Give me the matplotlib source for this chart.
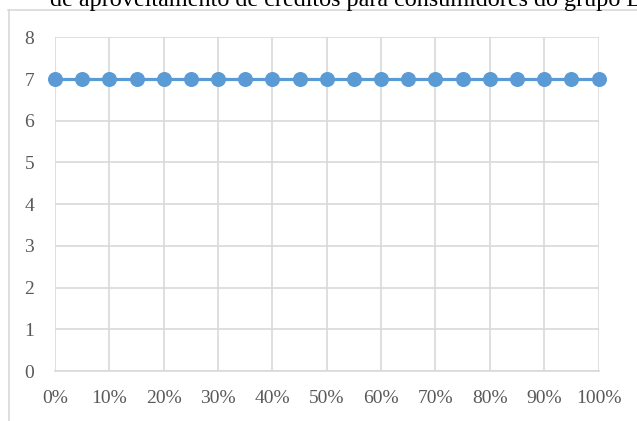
import matplotlib
matplotlib.use("Agg")
import matplotlib.pyplot as plt
from matplotlib.lines import Line2D

# Share of credit usage (x) and resulting value (y)
shares = [0.00, 0.05, 0.10, 0.15, 0.20, 0.25, 0.30, 0.35, 0.40, 0.45, 0.50,
          0.55, 0.60, 0.65, 0.70, 0.75, 0.80, 0.85, 0.90, 0.95, 1.00]
values = [7, 7, 7, 7, 7, 7, 7, 7, 7, 7, 7,
          7, 7, 7, 7, 7, 7, 7, 7, 7, 7]
x_ticks = [0.0, 0.1, 0.2, 0.3, 0.4, 0.5, 0.6, 0.7, 0.8, 0.9, 1.0]
x_tick_labels = ["0%", "10%", "20%", "30%", "40%", "50%",
                 "60%", "70%", "80%", "90%", "100%"]
y_ticks = [0, 1, 2, 3, 4, 5, 6, 7, 8]
title = "de aproveitamento de créditos para consumidores do grupo B"

W, H = 637, 421
DPI = 100
plt.rcParams["font.family"] = ["Liberation Serif", "DejaVu Serif"]

fig = plt.figure(figsize=(W / DPI, H / DPI), dpi=DPI)
fig.patch.set_facecolor("white")

grid_c = "#D9D9D9"
text_c = "#595959"

# outer chart frame
fig.add_artist(Line2D([8.5 / W, 8.5 / W], [0, 1 - 10 / H], transform=fig.transFigure,
                      color=grid_c, lw=1.2))
fig.add_artist(Line2D([8 / W, 1], [1 - 10 / H, 1 - 10 / H], transform=fig.transFigure,
                      color=grid_c, lw=1.2))

# title
fig.text(50 / W, 1 - 6 / H, title, ha="left", va="baseline",
         fontsize=17.4, color="black")

left, right, top, bottom = 55, 598.5, 37.3, 371
ax = fig.add_axes([left / W, 1 - bottom / H, (right - left) / W, (bottom - top) / H])

ax.plot(shares, values, color="#5B9BD5", lw=2.3, marker="o", markersize=10.8,
        markeredgewidth=0, zorder=3, clip_on=False)

ax.set_xlim(0, 1)
ax.set_ylim(0, 8)
ax.set_xticks(x_ticks)
ax.set_xticklabels(x_tick_labels)
ax.set_yticks(y_ticks)
ax.grid(True, color=grid_c, lw=1.2)
ax.set_axisbelow(True)
for s in ax.spines.values():
    s.set_visible(False)
ax.spines["bottom"].set_visible(True)
ax.spines["bottom"].set_color(grid_c)
ax.spines["bottom"].set_linewidth(1.2)
ax.tick_params(length=0, colors=text_c, labelsize=14)
ax.tick_params(axis="x", pad=14)
ax.tick_params(axis="y", pad=15)

fig.savefig("out.png", dpi=DPI)
